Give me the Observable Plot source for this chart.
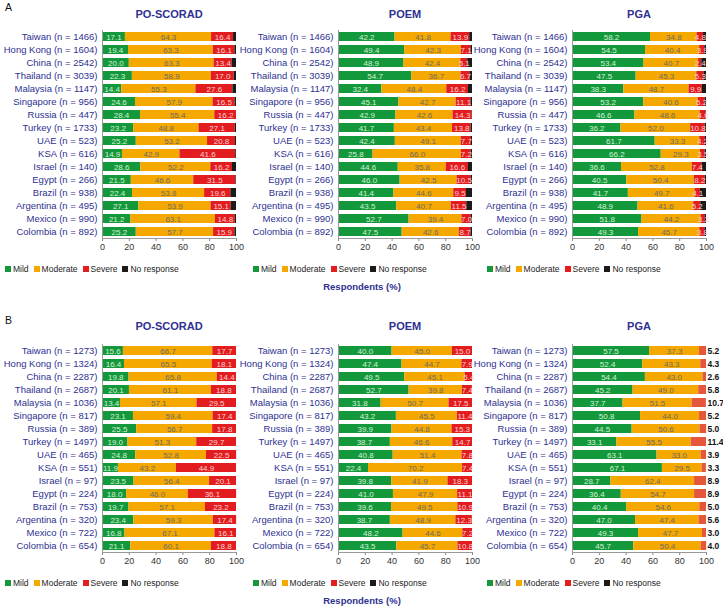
<!DOCTYPE html>
<html><head><meta charset="utf-8">
<script src="https://cdn.jsdelivr.net/npm/d3@7"></script>
<script src="https://cdn.jsdelivr.net/npm/@observablehq/plot@0.6"></script>
<style>
body{margin:0;background:#fff;font-family:"Liberation Sans",Arial,sans-serif;}
#root{position:relative;width:723px;height:612px;overflow:hidden;background:#fff;}
.abs{position:absolute;}
.title{font-weight:bold;font-size:11px;color:#2e3192;text-align:center;width:200px;}
.panel{font-size:10.5px;color:#111;}
.legend{display:flex;align-items:center;font-size:8.5px;color:#222;white-space:nowrap;}
.legend span.sq{display:inline-block;width:6px;height:6px;margin-right:2px;}
.legend span.it{margin-right:5px;display:flex;align-items:center;}
.xlab{font-size:9.5px;font-weight:bold;color:#2e3192;width:200px;text-align:center;}
</style></head><body><div id="root"></div>
<script>
const countries = ["Taiwan","Hong Kong","China","Thailand","Malaysia","Singapore","Russia","Turkey","UAE","KSA","Israel","Egypt","Brazil","Argentina","Mexico","Colombia"];
const nA = [1466,1604,2542,3039,1147,956,447,1733,523,616,140,266,938,495,990,892];
const nB = [1273,1324,2287,2687,1036,817,389,1497,465,551,97,224,753,320,722,654];
const categories = ["Mild","Moderate","Severe","No response"];
const measures = ["PO-SCORAD","POEM","PGA"];
const tickValues = [0,20,40,60,80,100];

// Panel A
const A_poscorad_mild = [17.1,19.4,20.0,22.3,14.4,24.6,28.4,23.2,25.2,14.9,28.6,21.5,22.4,27.1,21.2,25.2];
const A_poscorad_moderate = [64.3,63.3,63.3,58.9,55.3,57.9,55.4,48.8,53.2,42.9,52.2,46.6,53.8,53.9,63.1,57.7];
const A_poscorad_severe = [16.4,16.1,13.4,17.0,27.6,16.5,16.2,27.1,20.8,41.6,16.2,31.5,19.6,15.1,14.8,15.9];
const A_poscorad_noresp = [2.2,1.2,3.3,1.8,2.7,1.0,0.0,0.9,0.8,0.6,3.0,0.4,4.2,3.9,0.9,1.2];

const A_poem_mild = [42.2,49.4,48.9,54.7,32.4,45.1,42.9,41.7,42.4,25.8,44.6,46.0,41.4,43.5,52.7,47.5];
const A_poem_moderate = [41.8,42.3,42.4,36.7,48.4,42.7,42.6,43.4,49.1,66.0,35.8,42.5,44.6,40.7,39.4,42.6];
const A_poem_severe = [13.9,7.1,5.1,6.7,16.2,11.1,14.3,13.8,7.7,7.2,16.6,10.5,9.5,11.5,7.0,8.7];
const A_poem_noresp = [2.1,1.2,3.6,1.9,3.0,1.1,0.2,1.1,0.8,1.0,3.0,1.0,4.5,4.3,0.9,1.2];

const A_pga_mild = [58.2,54.5,53.4,47.5,38.3,53.2,46.6,36.2,61.7,66.2,36.6,40.5,41.7,48.9,51.8,49.3];
const A_pga_moderate = [34.8,40.4,40.7,45.3,48.7,40.6,48.6,52.0,33.3,29.3,52.8,50.4,49.7,41.6,44.2,45.7];
const A_pga_severe = [4.8,3.9,2.4,5.3,9.9,5.2,4.6,10.8,4.2,3.5,7.4,8.2,4.1,5.2,3.2,3.8];
const A_pga_noresp = [2.2,1.2,3.5,1.9,3.1,1.0,0.2,1.0,0.8,1.0,3.2,0.9,4.5,4.3,0.8,1.2];

// Panel B
const B_poscorad_mild = [15.6,16.4,19.8,20.1,13.4,23.1,25.5,19.0,24.8,11.9,23.5,18.0,19.7,23.4,16.8,21.1];
const B_poscorad_moderate = [66.7,65.5,65.8,61.1,57.1,59.4,56.7,51.3,52.8,43.2,56.4,46.0,57.1,59.3,67.1,60.1];
const B_poscorad_severe = [17.7,18.1,14.4,18.8,29.5,17.4,17.8,29.7,22.5,44.9,20.1,36.1,23.2,17.4,16.1,18.8];

const B_poem_mild = [40.0,47.4,49.5,52.7,31.8,43.2,39.9,38.7,40.8,22.4,39.8,41.0,39.6,38.7,48.2,43.5];
const B_poem_moderate = [45.0,44.7,45.1,39.8,50.7,45.5,44.8,46.6,51.4,70.2,41.9,47.9,49.5,48.9,44.6,45.7];
const B_poem_severe = [15.0,7.9,5.4,7.4,17.5,11.4,15.3,14.7,7.8,7.4,18.3,11.1,10.9,12.3,7.2,10.8];

const B_pga_mild = [57.5,52.4,54.4,45.2,37.7,50.8,44.5,33.1,63.1,67.1,28.7,36.4,40.4,47.0,49.3,45.7];
const B_pga_moderate = [37.3,43.3,43.0,49.0,51.5,44.0,50.6,55.5,33.0,29.5,62.4,54.7,54.6,47.4,47.7,50.4];
const B_pga_severe = [5.2,4.3,2.6,5.8,10.7,5.2,5.0,11.4,3.9,3.3,8.9,8.9,5.0,5.6,3.0,4.0];

const colMild = "#13993b", colMod = "#f4a800", colSev = "#e31d1f", colNR = "#1b1b1b";
const textColors = {Mild: "#d8efd6", Moderate: "#6a6a6a", Severe: "#fbd3d3"};
const labelBlue = "#2e3192";

const root = document.getElementById("root");
function addDiv(cls, html, left, top, extra) {
  const d = document.createElement("div");
  d.className = "abs " + cls;
  d.innerHTML = html;
  d.style.left = left + "px";
  d.style.top = top + "px";
  if (extra) Object.assign(d.style, extra);
  root.appendChild(d);
  return d;
}

const facetGeo = [
  {left: 0, width: 242, marginLeft: 102, marginRight: 6, legendLeft: 5},
  {left: 240, width: 240, marginLeft: 98, marginRight: 8, legendLeft: 253},
  {left: 474, width: 249, marginLeft: 98, marginRight: 17, legendLeft: 487}
];

function facet(series, n, geo, top, outside, sevColor) {
  const labels = countries.map((c, i) => `${c} (n = ${n[i]})`);
  const rows = [];
  countries.forEach((c, i) => {
    series.forEach((arr, j) => {
      if (arr) rows.push({label: labels[i], cat: categories[j], value: arr[i]});
    });
  });
  const marks = [
    Plot.barX(rows, Plot.stackX({x: "value", y: "label", fill: "cat"}))
  ];
  ["Mild", "Moderate", "Severe"].forEach(cat => {
    if (outside && cat === "Severe") return;
    marks.push(Plot.text(rows, Plot.stackX({
      x: "value", y: "label", z: "cat",
      text: d => d.cat === cat ? d.value.toFixed(1) : "",
      fill: textColors[cat], fontSize: 8
    })));
  });
  if (outside) {
    marks.push(Plot.text(rows.filter(d => d.cat === "Severe"), {
      x: d => 100, y: "label", text: d => d.value.toFixed(1),
      dx: 1, textAnchor: "start", fill: "#111", fontSize: 8.5, fontWeight: "bold"
    }));
  }
  marks.push(
    Plot.axisY({tickSize: 0, tickPadding: 5, fill: labelBlue, fontSize: 9.5, label: null}),
    Plot.axisX({ticks: tickValues, tickSize: 3, tickPadding: 2, fontSize: 9, fill: "#333", stroke: "#888", label: null}),
    Plot.frame({anchor: "left", stroke: "#999"}),
    Plot.frame({anchor: "bottom", stroke: "#999"})
  );
  const svg = Plot.plot({
    width: geo.width, height: 258,
    marginTop: 30, marginBottom: 20,
    marginLeft: geo.marginLeft, marginRight: geo.marginRight,
    x: {domain: [0, 100], label: null},
    y: {domain: labels, label: null, paddingInner: 0.3, paddingOuter: 0.15},
    color: {domain: categories, range: [colMild, colMod, sevColor || colSev, colNR]},
    style: {fontFamily: "Liberation Sans, Arial, sans-serif", background: "transparent", overflow: "visible"},
    marks
  });
  svg.style.position = "absolute";
  svg.style.left = geo.left + "px";
  svg.style.top = top + "px";
  root.appendChild(svg);
}

function legend(left, top, sevColor) {
  const cols = [colMild, colMod, sevColor || colSev, colNR];
  const html = categories.map((c, i) => `<span class="it"><span class="sq" style="background:${cols[i]}"></span>${c}</span>`).join("");
  addDiv("legend", html, left, top);
}

const panels = [
  {name: "A", top: 0, n: nA, titleTop: 8, letterTop: 1, series: [
    [A_poscorad_mild, A_poscorad_moderate, A_poscorad_severe, A_poscorad_noresp],
    [A_poem_mild, A_poem_moderate, A_poem_severe, A_poem_noresp],
    [A_pga_mild, A_pga_moderate, A_pga_severe, A_pga_noresp]
  ]},
  {name: "B", top: 314, n: nB, titleTop: 320, letterTop: 314, series: [
    [B_poscorad_mild, B_poscorad_moderate, B_poscorad_severe, null],
    [B_poem_mild, B_poem_moderate, B_poem_severe, null],
    [B_pga_mild, B_pga_moderate, B_pga_severe, null]
  ]}
];

panels.forEach((p, pi) => {
  addDiv("panel", p.name, 5, p.letterTop);
  measures.forEach((m, mi) => {
    const geo = facetGeo[mi];
    const center = geo.left + (geo.marginLeft + geo.width - geo.marginRight) / 2;
    addDiv("title", m, center - 100, p.titleTop);
    const outside = (pi === 1 && mi === 2);
    const sev = outside ? "#e5573d" : null;
    facet(p.series[mi], p.n, geo, p.top, outside, sev);
    legend(geo.legendLeft, p.top + 264, null);
  });
  addDiv("xlab", "Respondents (%)", 262, p.top + 281);
});
</script>
</body></html>
